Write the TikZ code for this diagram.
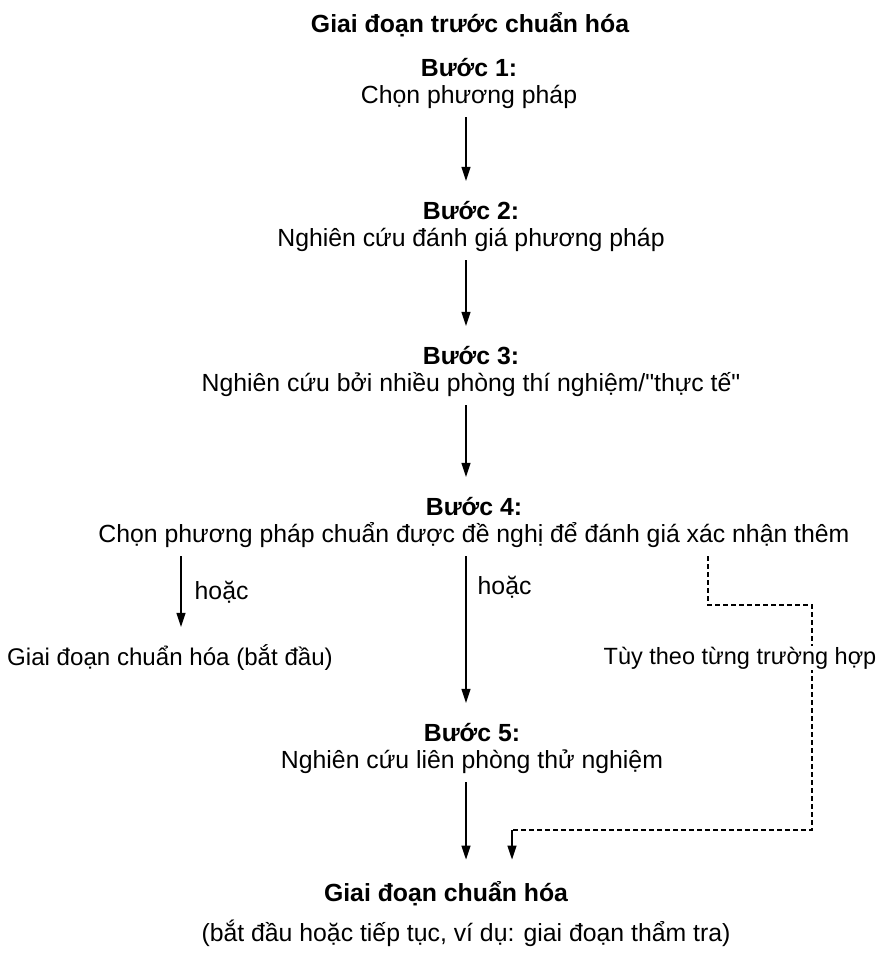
\documentclass[tikz,border=0pt]{standalone}
\usepackage{fontspec}
\setmainfont{Liberation Sans}
\newfontfamily\qf{Liberation Sans}
\usetikzlibrary{arrows.meta}
\begin{document}
\begin{tikzpicture}[x=1pt,y=-1pt,
  txt/.style={inner sep=2pt,font=\fontsize{24.8}{27.5}\selectfont},
  stepnode/.style={txt,align=center},
  arr/.style={line width=1.4pt,-{Triangle[length=14pt,width=9pt]}},
  dsh/.style={line width=1.3pt,dash pattern=on 5pt off 3pt},
  lbl/.style={txt,anchor=west,inner sep=1pt}]
\fill[white] (0,0) rectangle (890,953);
\useasboundingbox (0,0) rectangle (890,953);
\coordinate (ax) at (466,0);
\coordinate (lx) at (181,0);
\coordinate (dx) at (708,0);
\coordinate (fx) at (512,0);
\coordinate (d1) at (812,605);
\coordinate (d2) at (812,830);

\node[txt] (title) at (470,25) {\bfseries Giai đoạn trước chuẩn hóa};
\node[stepnode] (s1) at (469,83.5) {\textbf{Bước 1:}\\Chọn phương pháp};
\node[stepnode] (s2) at (471,226.5) {\textbf{Bước 2:}\\Nghiên cứu đánh giá phương pháp};
\node[stepnode] (s3) at (471,371.5) {\textbf{Bước 3:}\\Nghiên cứu bởi nhiều phòng thí nghiệm/{\qf"}thực tế{\qf"}};
\node[stepnode] (s4) at (474,522.5) {\textbf{Bước 4:}\\Chọn phương pháp chuẩn được đề nghị để đánh giá xác nhận thêm};
\node[txt,font=\fontsize{24.1}{27.5}\selectfont] (left) at (170,658) {Giai đoạn chuẩn hóa (bắt đầu)};
\node[stepnode] (s5) at (472,748.5) {\textbf{Bước 5:}\\Nghiên cứu liên phòng thử nghiệm};
\node[txt] (fin) at (446,894) {\bfseries Giai đoạn chuẩn hóa};
\node[txt] (finsub) at (466,933) {(bắt đầu hoặc tiếp tục, ví dụ: giai đoạn thẩm tra)};

\draw[arr,shorten <=6pt,shorten >=18pt] (s1.south -| ax) -- (s2.north -| ax);
\draw[arr,shorten <=6pt,shorten >=18pt] (s2.south -| ax) -- (s3.north -| ax);
\draw[arr,shorten <=6pt,shorten >=18pt] (s3.south -| ax) -- (s4.north -| ax);
\draw[arr,shorten <=6pt,shorten >=16pt] (s4.south -| lx) -- node[lbl,pos=0.45,xshift=12pt]{hoặc} (left.north -| lx);
\draw[arr,shorten <=6pt,shorten >=18pt] (s4.south -| ax) -- node[lbl,pos=0.22,xshift=10pt]{hoặc} (s5.north -| ax);
\draw[arr,shorten <=6pt,shorten >=20pt] (s5.south -| ax) -- (fin.north -| ax);
\draw[dsh,shorten <=6pt] (s4.south -| dx) |- (d1) -- (d2) -- (fx |- d2);
\draw[arr,shorten >=20pt] (fx |- d2) -- (fx |- fin.north);
\node[txt,fill=white,inner sep=1pt,font=\fontsize{23.5}{27}\selectfont] (tuy) at (740,658) {Tùy theo từng trường hợp};
\end{tikzpicture}
\end{document}
